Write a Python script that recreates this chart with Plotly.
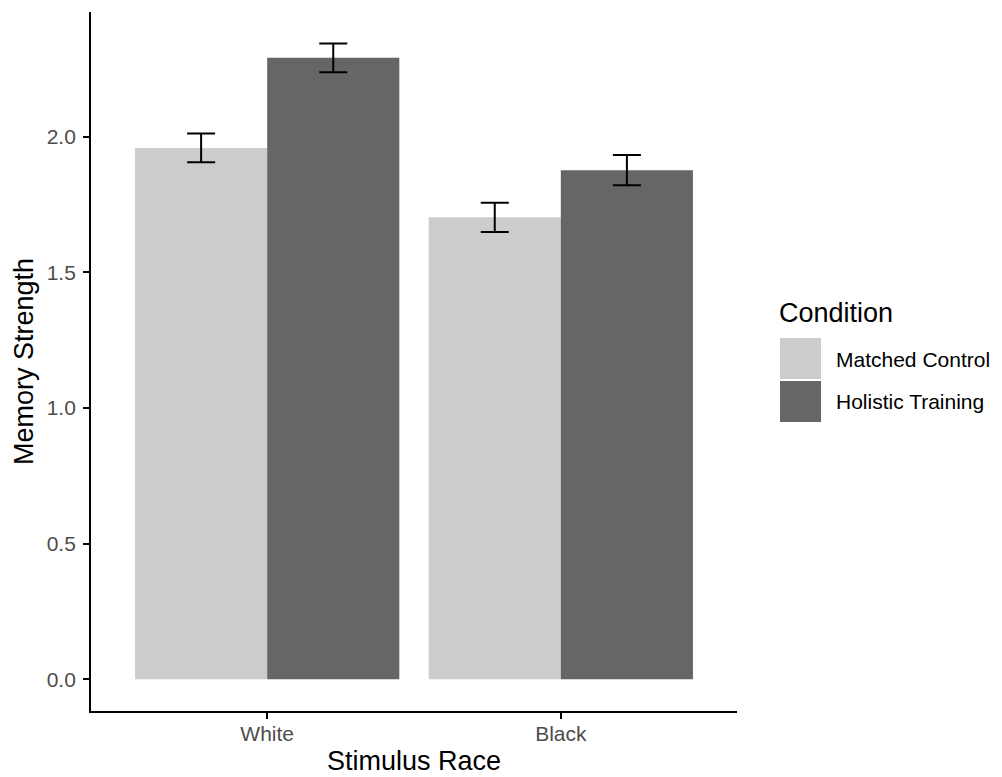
import plotly.graph_objects as go

# ---- data ----
races = ["White", "Black"]
conditions = ["Matched Control", "Holistic Training"]
matched_control = [1.959, 1.703]
matched_control_se = [0.053, 0.054]
holistic_training = [2.291, 1.877]
holistic_training_se = [0.053, 0.056]
colors = ["#CCCCCC", "#666666"]
y_ticks = [0.0, 0.5, 1.0, 1.5, 2.0]
y_tick_labels = ["0.0", "0.5", "1.0", "1.5", "2.0"]

OFF = 8  # page body margin offset
W, H = 1002 - OFF, 777 - OFF
L, R, T, B = 91 - OFF, 737 - OFF, 12 - OFF, 711 - OFF  # plot area in figure pixels

fig = go.Figure()
series = [(matched_control, matched_control_se), (holistic_training, holistic_training_se)]
for name, (vals, se), col in zip(conditions, series, colors):
    fig.add_trace(go.Bar(
        x=races, y=vals, name=name, marker=dict(color=col, line=dict(width=0)),
        error_y=dict(type="data", array=se, visible=True, color="black", thickness=2, width=14),
        showlegend=False,
    ))

def px_x(x):
    return (x - OFF - L) / (R - L)

def px_y(y):
    return (B - (y - OFF)) / (B - T)

# legend drawn manually (ggplot style)
fig.add_annotation(x=px_x(777), y=px_y(313), xref="paper", yref="paper", text="Condition",
                   showarrow=False, xanchor="left", yanchor="middle",
                   font=dict(size=27, color="black", family="Liberation Sans"))
key_tops = [338, 381]
for i, (name, col) in enumerate(zip(conditions, colors)):
    top = key_tops[i]
    fig.add_shape(type="rect", xref="paper", yref="paper",
                  x0=px_x(780), x1=px_x(821), y0=px_y(top), y1=px_y(top + 41),
                  fillcolor=col, line=dict(width=0))
    fig.add_annotation(x=px_x(834), y=px_y(top + 21), xref="paper", yref="paper", text=name,
                       showarrow=False, xanchor="left", yanchor="middle",
                       font=dict(size=21, color="black", family="Liberation Sans"))

fig.update_layout(
    width=W, height=H,
    margin=dict(l=L, r=W - R, t=T, b=H - B, pad=0, autoexpand=False),
    paper_bgcolor="white", plot_bgcolor="white",
    barmode="group", bargap=0.1, bargroupgap=0,
    font=dict(family="Liberation Sans", color="black"),
    showlegend=False,
)
fig.update_xaxes(
    range=[-0.6, 1.6], showline=True, linecolor="black", linewidth=1.8,
    ticks="outside", ticklen=6, tickwidth=1.5, tickcolor="black", ticklabelstandoff=-3,
    tickfont=dict(size=21, color="#4D4D4D"), showgrid=False, zeroline=False,
    title=dict(text="Stimulus Race", font=dict(size=27, color="black"), standoff=7),
    automargin=False,
)
fig.update_yaxes(
    range=[-0.117, 2.46], showline=True, linecolor="black", linewidth=1.8,
    tickmode="array", tickvals=y_ticks, ticktext=y_tick_labels,
    ticks="outside", ticklen=6, tickwidth=1.5, tickcolor="black", ticklabelstandoff=3,
    tickfont=dict(size=21, color="#4D4D4D"), showgrid=False, zeroline=False,
    title=dict(text="Memory Strength", font=dict(size=27, color="black"), standoff=5),
    automargin=False,
)

fig.write_html("out.html")
